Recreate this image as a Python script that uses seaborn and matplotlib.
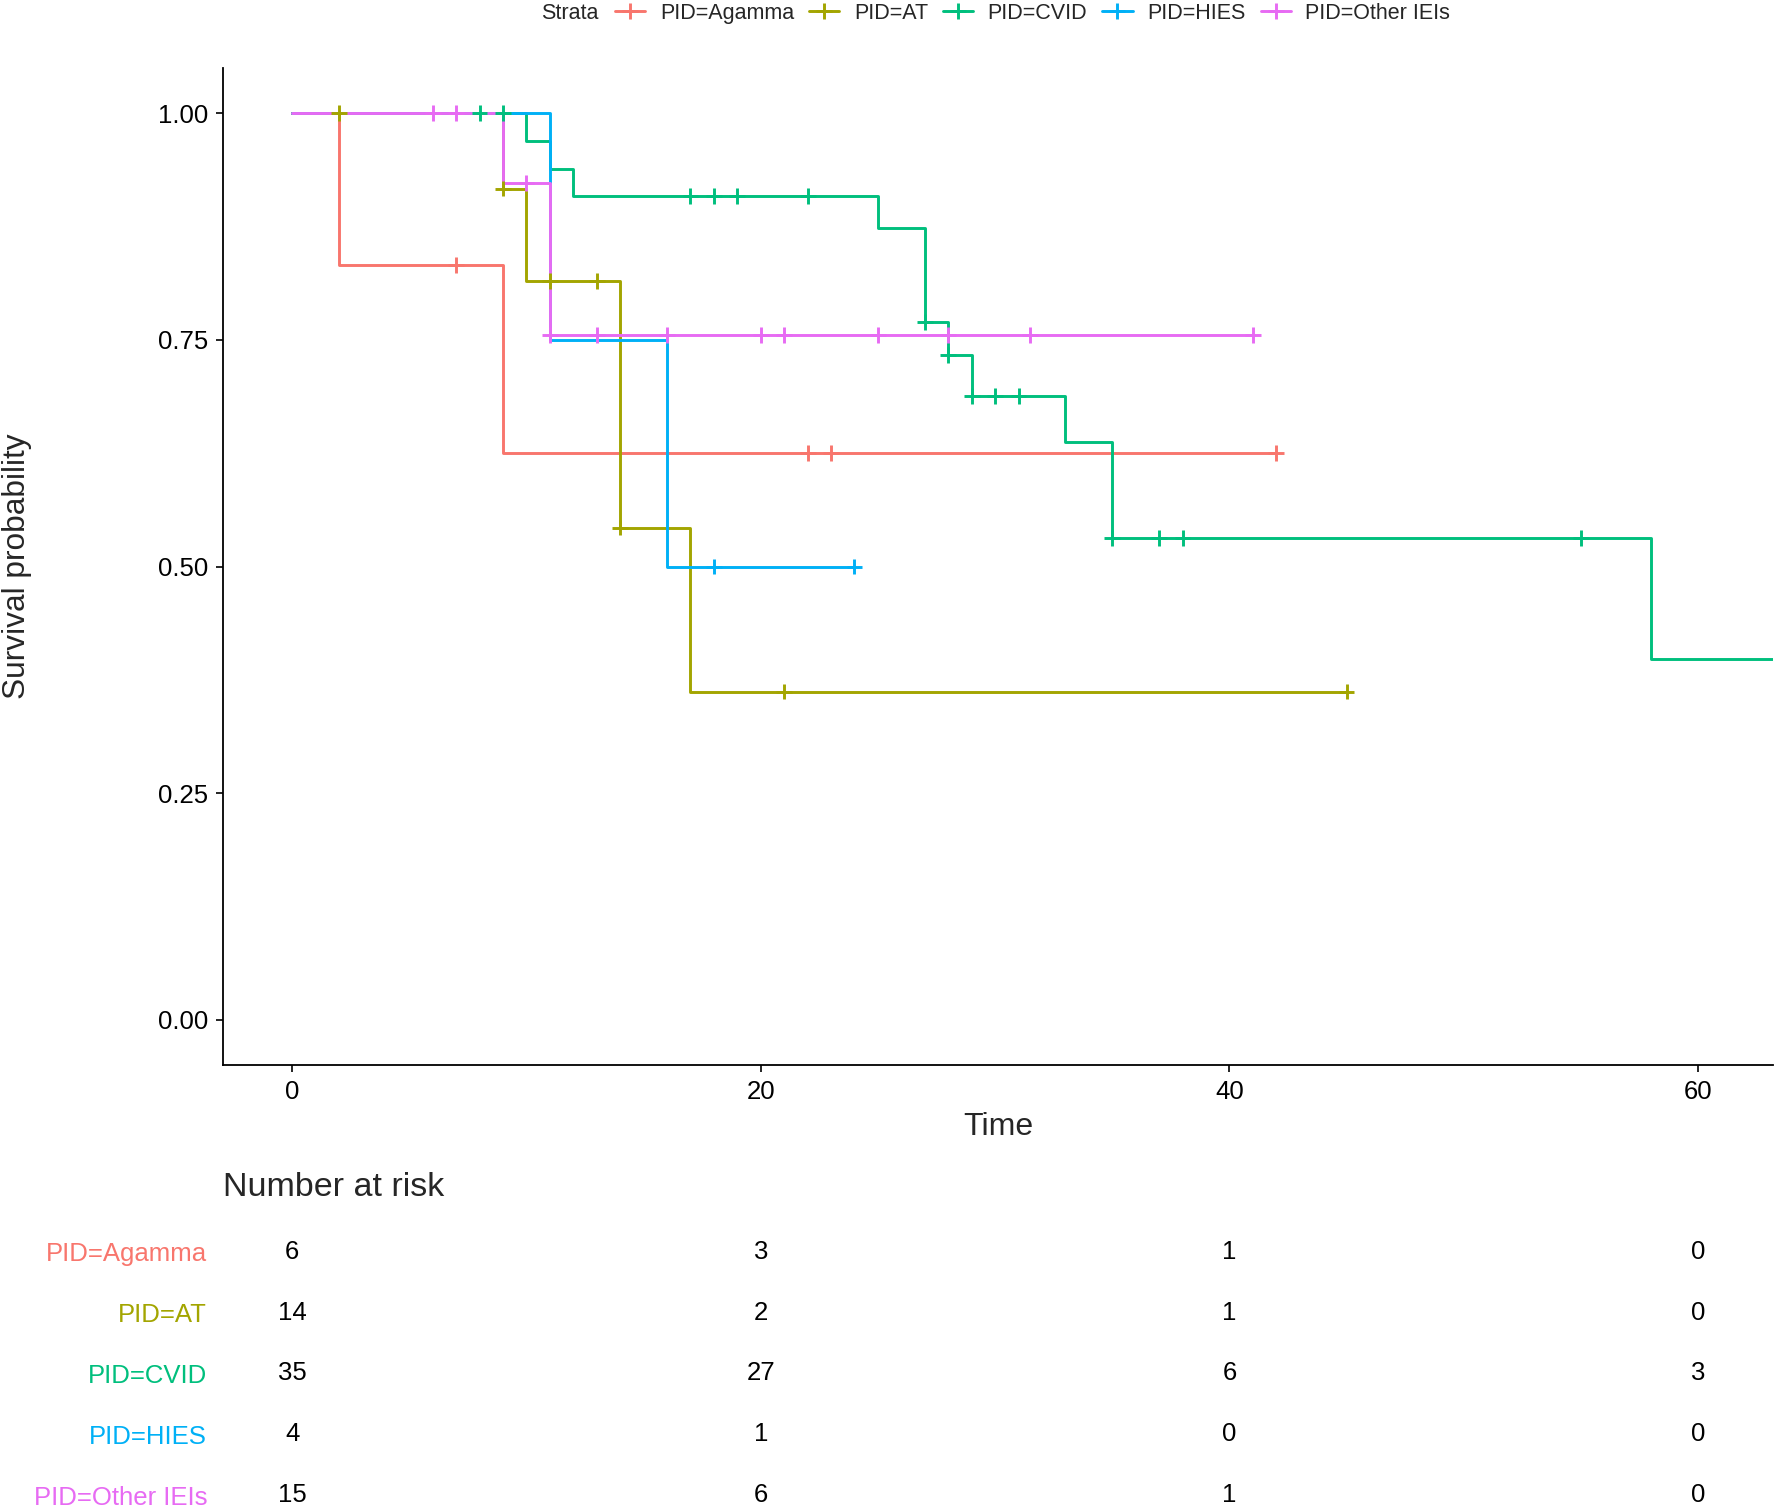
import numpy as np
import pandas as pd
import matplotlib
matplotlib.use("Agg")
import matplotlib.pyplot as plt
from matplotlib.lines import Line2D
import seaborn as sns

# Set seaborn style
sns.set_theme(style="ticks")
plt.rcParams["font.family"] = ["Liberation Sans", "DejaVu Sans"]

# Kaplan-Meier curves
strata = ["PID=Agamma", "PID=AT", "PID=CVID", "PID=HIES", "PID=Other IEIs"]
colors = ["#F8766D", "#A3A500", "#00BF7D", "#00B0F6", "#E76BF3"]

agamma_times = [0, 2, 9]
agamma_surv = [1.0, 0.833, 0.625]
agamma_end = 42
agamma_censor = [7, 22, 23, 42]

at_times = [0, 9, 10, 14, 17]
at_surv = [1.0, 0.917, 0.815, 0.543, 0.362]
at_end = 45
at_censor = [2, 9, 11, 13, 14, 21, 45]

cvid_times = [0, 10, 11, 12, 25, 27, 28, 29, 33, 35, 58]
cvid_surv = [1.0, 0.970, 0.939, 0.909, 0.874, 0.770, 0.733, 0.688, 0.637, 0.531, 0.398]
cvid_end = 66
cvid_censor = [8, 9, 17, 18, 19, 22, 27, 28, 29, 30, 31, 35, 37, 38, 55]

hies_times = [0, 11, 16]
hies_surv = [1.0, 0.75, 0.5]
hies_end = 24
hies_censor = [18, 24]

other_times = [0, 9, 11]
other_surv = [1.0, 0.923, 0.755]
other_end = 41
other_censor = [6, 7, 10, 11, 13, 16, 20, 21, 25, 28, 31.5, 41]

# Number at risk table
risk_times = [0, 20, 40, 60]
risk_agamma = [6, 3, 1, 0]
risk_at = [14, 2, 1, 0]
risk_cvid = [35, 27, 6, 3]
risk_hies = [4, 1, 0, 0]
risk_other = [15, 6, 1, 0]

curves = [
    (agamma_times, agamma_surv, agamma_end, agamma_censor),
    (at_times, at_surv, at_end, at_censor),
    (cvid_times, cvid_surv, cvid_end, cvid_censor),
    (hies_times, hies_surv, hies_end, hies_censor),
    (other_times, other_surv, other_end, other_censor),
]
risk_rows = [risk_agamma, risk_at, risk_cvid, risk_hies, risk_other]

# ---- build long tables ----
line_rows = []
cens_rows = []
for name, (t, s, end, cens) in zip(strata, curves):
    for ti, si in zip(t + [end], s + [s[-1]]):
        line_rows.append({"time": ti, "surv": si, "strata": name})
    t_arr = np.array(t)
    for c in cens:
        idx = np.searchsorted(t_arr, c, side="right") - 1
        cens_rows.append({"time": c, "surv": s[idx], "strata": name})
lines_df = pd.DataFrame(line_rows)
cens_df = pd.DataFrame(cens_rows)
palette = dict(zip(strata, colors))

W, H = 1776, 1509
fig = plt.figure(figsize=(W / 100, H / 100), dpi=100)

# panel in pixel coords
left, right, top, bottom = 223, 1773, 68, 1065
ax = fig.add_axes([left / W, 1 - bottom / H, (right - left) / W, (bottom - top) / H])

sns.lineplot(data=lines_df, x="time", y="surv", hue="strata", palette=palette,
             hue_order=strata, estimator=None, sort=True, drawstyle="steps-post",
             linewidth=2.1, legend=False, ax=ax)
sns.scatterplot(data=cens_df, x="time", y="surv", hue="strata", palette=palette,
                hue_order=strata, marker="+", s=130, linewidth=2.1,
                legend=False, ax=ax, zorder=3)

ax.set_xlim(-2.95, 63.2)
ax.set_ylim(-0.05, 1.05)
ax.set_xticks([0, 20, 40, 60])
ax.set_yticks([0, 0.25, 0.5, 0.75, 1.0])
ax.set_yticklabels(["0.00", "0.25", "0.50", "0.75", "1.00"])
ax.tick_params(axis="both", labelsize=18.5, length=5, width=1.2, pad=5.5,
               colors="black", direction="out")
for sp in ["top", "right"]:
    ax.spines[sp].set_visible(False)
for sp in ["left", "bottom"]:
    ax.spines[sp].set_linewidth(1.3)
    ax.spines[sp].set_color("black")

ax.set_xlabel("Time", fontsize=23)
ax.set_ylabel("Survival probability", fontsize=22.8)
ax.xaxis.set_label_coords(0.5, -0.047)
ax.yaxis.set_label_coords(-0.123, 0.5)
ax.xaxis.label.set_verticalalignment("top")

# ---- legend on top ----
fig.text(541 / W, 1 - 13.5 / H, "Strata", fontsize=15.5, ha="left", va="center")
handles = [Line2D([], [], color=c, lw=2.1, marker="+", markersize=11.5, mew=2.1) for c in colors]
fig.legend(handles, strata, loc="center left", bbox_to_anchor=(615 / W, 1 - 13.5 / H),
           ncol=5, frameon=False, fontsize=15.5, handlelength=1.4, handletextpad=0.68,
           columnspacing=0.7, borderpad=0, borderaxespad=0)

# ---- risk table ----
rtop = 1222
rax = fig.add_axes([left / W, 0, (right - left) / W, (H - rtop) / H])
rax.set_xlim(-2.95, 63.2)
row_px0, row_step = 1251.6, 60.9
rax.set_ylim((H - row_px0) / row_step, (rtop - row_px0) / row_step)
for i, row in enumerate(risk_rows):
    for tt, n in zip(risk_times, row):
        rax.text(tt, i, str(n), ha="center", va="center", fontsize=18.5, color="black")
rax.set_yticks(range(len(strata)))
rax.set_yticklabels(strata)
for lab, col in zip(rax.get_yticklabels(), colors):
    lab.set_color(col)
rax.tick_params(axis="y", length=0, labelsize=18.5, pad=11.5)
rax.set_xticks([])
for sp in rax.spines.values():
    sp.set_visible(False)
rax.patch.set_alpha(0)

fig.text(left / W, 1 - 1187 / H, "Number at risk", fontsize=24.5, ha="left", va="center")

fig.savefig("out.png", dpi=100)
